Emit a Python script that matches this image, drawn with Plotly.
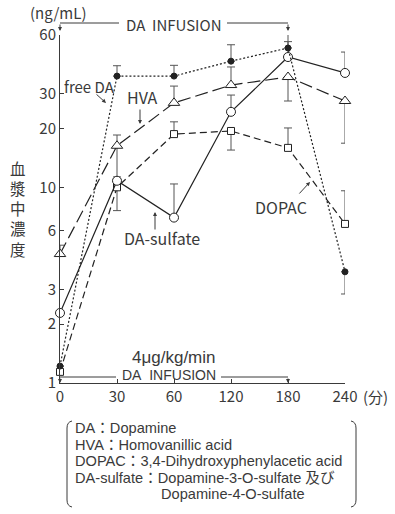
import plotly.graph_objects as go

# ---- data ----
time_labels = ["0", "30", "60", "120", "180", "240"]
y_ticks = [1, 2, 3, 6, 10, 20, 30, 60]

free_da = [1.22, 37.0, 37.0, 44.1, 51.5, 3.7]
free_da_plus = [0, 4.8, 5.0, 9.4, 4.0, 0]
free_da_minus = [0, 0, 0, 0, 0, 0.85]

da_sulfate = [2.28, 10.8, 7.0, 24.3, 46.3, 38.4]
da_sulfate_plus = [0, 0, 3.4, 5.3, 16.0, 10.7]
da_sulfate_minus = [0, 0, 0, 0, 0, 0]

hva = [4.56, 16.3, 27.0, 33.3, 36.6, 27.6]
hva_plus = [0.5, 2.2, 5.9, 7.9, 0, 0]
hva_minus = [0, 5.0, 0, 0, 9.0, 10.8]

dopac = [1.14, 10.0, 18.7, 19.4, 15.9, 6.5]
dopac_plus = [0, 0, 2.9, 0, 4.2, 3.1]
dopac_minus = [0, 2.4, 0, 3.9, 0, 0]

x_idx = list(range(len(time_labels)))

FONT = "Noto Sans CJK JP"
LFONT = "Liberation Sans, Noto Sans CJK JP"
TXT = "#3a3a3a"
LINE = "#222222"

W, H = 395, 514
L, R, T, B = 60, 50, 35, 131
PW, PH = W - L - R, H - T - B


def px(x):
    return (x - L) / PW


def py(y):
    return (H - B - y) / PH


fig = go.Figure()


def add_series(y, plus, minus, dash, symbol, size, fill, lw=1.2):
    fig.add_trace(go.Scatter(
        x=x_idx, y=y, mode="lines+markers", cliponaxis=False,
        line=dict(color=LINE, width=lw, dash=dash),
        marker=dict(symbol=symbol, size=size, color=fill,
                    line=dict(color=LINE, width=1)),
        error_y=dict(type="data", symmetric=False, array=plus, arrayminus=minus,
                     color="#555555", thickness=1, width=4),
        showlegend=False, hoverinfo="skip",
    ))


add_series(dopac, dopac_plus, dopac_minus, "7px,4px", "square", 7, "white")
add_series(hva, hva_plus, hva_minus, "13px,5px", "triangle-up", 10, "white")
add_series(da_sulfate, da_sulfate_plus, da_sulfate_minus, "solid", "circle", 9, "white")
add_series(free_da, free_da_plus, free_da_minus, "2px,2px", "circle", 6, LINE)

ann = []


def text(x, y, s, size=13, xanchor="center", family=FONT):
    ann.append(dict(x=px(x), y=py(y), xref="paper", yref="paper", text=s,
                    showarrow=False, xanchor=xanchor, yanchor="middle",
                    font=dict(family=family, size=size, color=TXT)))


def arrow(x0, y0, x1, y1):
    ann.append(dict(x=px(x1), y=py(y1), xref="paper", yref="paper", text="",
                    showarrow=True, ax=x0 - x1, ay=y0 - y1, axref="pixel", ayref="pixel",
                    arrowhead=2, arrowsize=0.8, arrowwidth=1, arrowcolor=TXT,
                    standoff=0, startstandoff=0))


NB = "\u00a0\u00a0"
text(58, 13, "(ng/mL)", 15)
text(173, 24, "DA" + NB + "INFUSION", 15)
text(89, 86, "free" + "\u00a0" + "DA", 15)
arrow(95, 93, 106, 103)
text(142, 97, "HVA", 16)
arrow(140, 108, 140, 124)
text(162, 238, "DA-sulfate", 16)
arrow(155, 231, 155, 212)
text(281, 207, "DOPAC", 16)
arrow(298, 195, 310, 182)
text(174, 357, "4μg/kg/min", 17, family=LFONT)
text(169, 375, "DA" + NB + "INFUSION", 14, family=LFONT)
text(376, 396, "(分)", 15)
arrow(60, 23, 60, 31)
arrow(288, 23, 288, 31)
arrow(60, 377, 60, 383)
arrow(288, 377, 288, 383)

# vertical y-axis title, one character per line
text(18, 208, "<br>".join("血漿中濃度"), 15.5)

legend_lines = [
    ("DA：Dopamine", 73, 428),
    ("HVA：Homovanillic acid", 73, 444.5),
    ("DOPAC：3,4-Dihydroxyphenylacetic acid", 73, 461),
    ("DA-sulfate：Dopamine-3-O-sulfate 及び", 73, 477.5),
    ("Dopamine-4-O-sulfate", 159, 494),
]
for s, xx, yy in legend_lines:
    text(xx, yy, s, 14.6, xanchor="left", family=LFONT)

shapes = []


def seg(x0, y0, x1, y1):
    shapes.append(dict(type="line", xref="paper", yref="paper",
                       x0=px(x0), y0=py(y0), x1=px(x1), y1=py(y1),
                       line=dict(color=TXT, width=1)))


seg(60, 23, 119, 23)
seg(227, 23, 288, 23)
seg(60, 377, 116, 377)
seg(221, 377, 288, 377)


def bracket(xv, y0, y1, dirn):
    # dirn = +1 for left bracket (ends turn right), -1 for right bracket
    c = 5
    p = (f"M {px(xv + dirn * c)} {py(y0)} "
         f"Q {px(xv)} {py(y0 + 1)} {px(xv)} {py(y0 + 7)} "
         f"L {px(xv)} {py(y1 - 7)} "
         f"Q {px(xv)} {py(y1 - 1)} {px(xv + dirn * c)} {py(y1)}")
    shapes.append(dict(type="path", xref="paper", yref="paper", path=p,
                       line=dict(color=TXT, width=1)))


bracket(67, 421, 507, 1)
bracket(356, 421, 507, -1)

fig.update_layout(
    width=W, height=H,
    margin=dict(l=L, r=R, t=T, b=B, autoexpand=False),
    paper_bgcolor="white", plot_bgcolor="white",
    font=dict(family=FONT, size=15, color=TXT),
    annotations=ann, shapes=shapes, hovermode=False,
    xaxis=dict(range=[0, 5], tickvals=x_idx, ticktext=time_labels,
               showline=True, linecolor=TXT, linewidth=1, ticks="inside",
               ticklen=4, tickcolor=TXT, showgrid=False, zeroline=False,
               tickfont=dict(family=FONT, size=15, color=TXT)),
    yaxis=dict(type="log", range=[0, 1.7782], tickvals=y_ticks,
               ticktext=[str(v) for v in y_ticks],
               showline=True, linecolor=TXT, linewidth=1, ticks="inside",
               ticklen=4, tickcolor=TXT, showgrid=False, zeroline=False,
               tickfont=dict(family=FONT, size=15, color=TXT)),
)

fig.write_html("out.html", config={"displayModeBar": False, "staticPlot": True},
               post_script="document.body.style.margin='0';document.body.style.padding='0';")
